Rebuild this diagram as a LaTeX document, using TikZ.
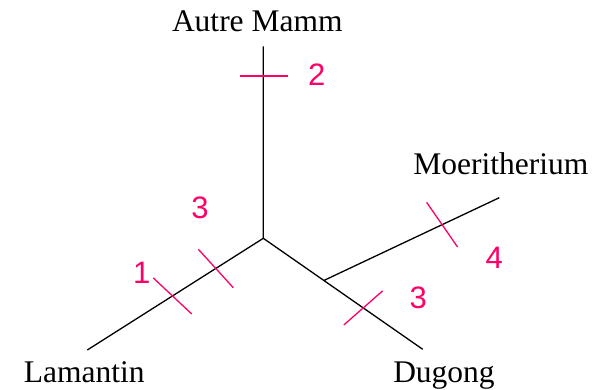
\documentclass[tikz,border=0pt]{standalone}
\usepackage{fontspec}
\setmainfont{Liberation Serif}
\newfontfamily\digitfont{Liberation Sans}
\usetikzlibrary{positioning}
\definecolor{tickpink}{RGB}{255,0,102}
\tikzset{
    branch/.style={draw=black, line width=1.3pt}, % tree edges
    tickmark/.style={draw=tickpink, line width=1.3pt}, % change marks on edges
    taxon/.style={inner sep=0pt, anchor=base, font=\fontsize{31.5}{36}\selectfont},
    steps/.style={inner sep=0pt, text=tickpink, font=\digitfont\fontsize{31}{36}\selectfont},
}

\begin{document}
\begin{tikzpicture}[x=1pt, y=-1pt]
        \useasboundingbox (0,0) rectangle (595,390);
        % Nodes
        \coordinate (root) at (263.3,238.3);
        \coordinate (top) at (263.3,46.5);
        \coordinate (lam) at (87.3,350);
        \coordinate (dug) at (422.7,349.3);
        \coordinate (moe) at (499.3,197.7);
        \path (root) -- (dug) coordinate[pos=0.38] (fork);

        \node[taxon] (autre) at (257.3,31.7) {Autre Mamm};
        \node[taxon] (lamantin) at (84.2,382.7) {Lamantin};
        \node[taxon] (dugong) at (444,382.7) {Dugong};
        \node[taxon] (moeritherium) at (500.8,175) {Moeritherium};

        % Draw lines
        \draw[branch]
            (root) -- (top)
            (root) -- (lam)
            (root) -- (dug)
            (fork) -- (moe)
        ;

        % Marks
        \path (root) -- (top) coordinate[pos=0.846] (t2);
        \path (root) -- (lam) coordinate[pos=0.27] (t3) coordinate[pos=0.516] (t1);
        \path (root) -- (dug) coordinate[pos=0.627] (tD);
        \path (fork) -- (moe) coordinate[pos=0.674] (t4);

        \draw[tickmark] (t2) +(180:23) -- +(0:25);
        \draw[tickmark] (t1) +(223.2:26.3) -- +(43.2:26.3);
        \draw[tickmark] (t3) +(227.7:26) -- +(47.7:26);
        \draw[tickmark] (tD) +(138.7:25.8) -- +(-41.3:25.8);
        \draw[tickmark] (t4) +(235.3:27.2) -- +(55.3:27.2);

        \node[steps] (n2) at (316.7,75) {2};
        \node[steps] (n1) at (141.7,273.3) {1};
        \node[steps] (n3a) at (200,208.3) {3};
        \node[steps] (n3b) at (418.3,298.3) {3};
        \node[steps] (n4) at (494.3,258.3) {4};
    \end{tikzpicture}
\end{document}
